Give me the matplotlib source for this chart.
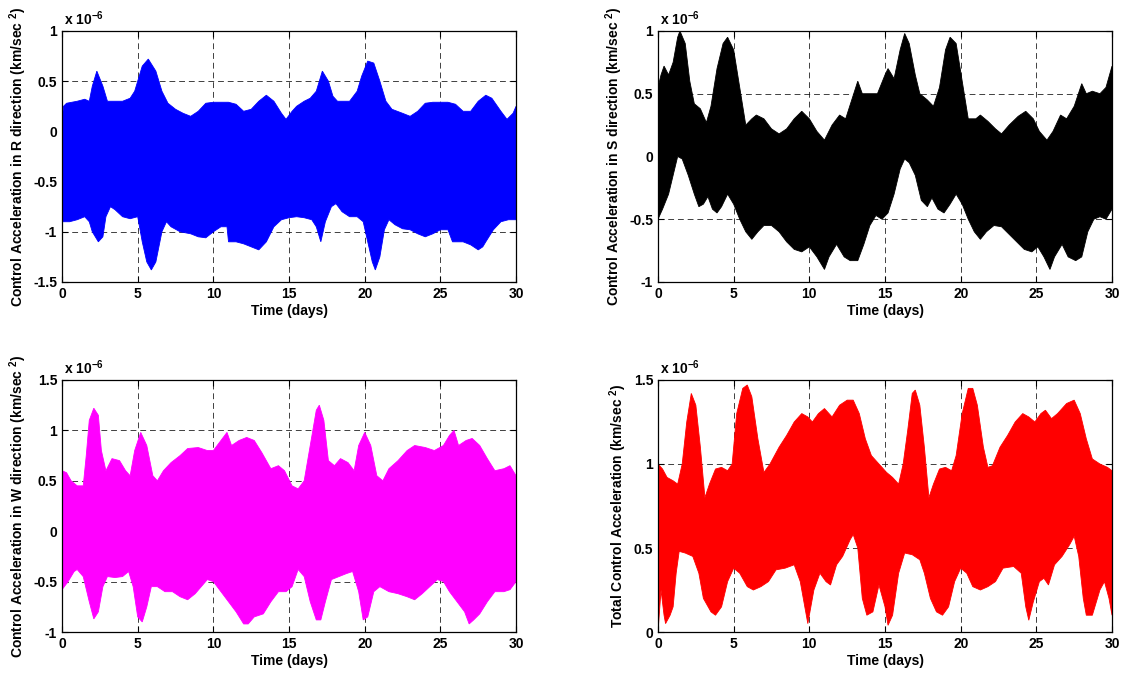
import numpy as np
import matplotlib
matplotlib.use('Agg')
import matplotlib.pyplot as plt

# Envelope of the control acceleration signals (units of 1e-6 km/sec^2)
# R direction
r_up_t = [0, 0.1, 0.3, 1.0, 1.5, 1.8, 2.0, 2.3, 2.7, 3.0, 3.5, 4.0, 4.5, 4.8, 5.0, 5.3, 5.7, 6.2, 6.6, 7.0, 7.5, 8.0,
          8.5, 9.0, 9.5, 10.0, 11.0, 11.5, 12.0, 12.5, 13.0, 13.5, 14.0, 14.5, 14.8, 15.2, 15.5, 16.0, 16.4, 16.8,
          17.2, 17.6, 17.9, 18.2, 19.0, 19.5, 19.8, 20.2, 20.6, 21.0, 21.4, 21.8, 22.5, 23.0, 23.5, 24.0, 24.5,
          25.0, 25.5, 26.0, 26.5, 27.0, 27.5, 28.0, 28.4, 29.0, 29.4, 29.8, 30.0]
r_up = [0.1, 0.25, 0.28, 0.3, 0.32, 0.3, 0.45, 0.6, 0.45, 0.3, 0.3, 0.3, 0.33, 0.4, 0.5, 0.65, 0.72, 0.6, 0.4, 0.28,
        0.22, 0.18, 0.15, 0.2, 0.28, 0.29, 0.29, 0.27, 0.2, 0.22, 0.3, 0.36, 0.3, 0.18, 0.12, 0.2, 0.25, 0.3, 0.33,
        0.4, 0.6, 0.5, 0.35, 0.3, 0.3, 0.4, 0.55, 0.7, 0.68, 0.5, 0.3, 0.22, 0.18, 0.15, 0.2, 0.28, 0.29, 0.29,
        0.29, 0.27, 0.2, 0.2, 0.3, 0.36, 0.33, 0.2, 0.12, 0.18, 0.25]
r_lo_t = [0, 0.5, 1.0, 1.5, 1.8, 2.0, 2.4, 2.7, 2.9, 3.2, 3.5, 4.0, 4.5, 5.0, 5.3, 5.6, 5.9, 6.2, 6.6, 6.9, 7.2, 7.8,
          8.5, 9.0, 9.5, 10.0, 10.5, 10.9, 11.0, 11.5, 12.0, 12.5, 13.0, 13.5, 14.0, 14.5, 15.0, 15.5, 16.0, 16.5,
          16.8, 17.1, 17.4, 17.8, 18.1, 18.5, 19.0, 19.5, 19.9, 20.2, 20.5, 20.7, 21.0, 21.3, 21.6, 22.0, 22.5,
          23.0, 23.5, 24.0, 24.5, 25.0, 25.5, 25.8, 26.5, 27.0, 27.5, 27.8, 28.0, 28.5, 29.0, 29.5, 30.0]
r_lo = [-0.9, -0.9, -0.88, -0.85, -0.9, -1.0, -1.1, -1.05, -0.85, -0.75, -0.78, -0.85, -0.87, -0.85, -1.1, -1.3,
        -1.38, -1.3, -1.0, -0.9, -0.95, -1.0, -1.02, -1.05, -1.06, -1.0, -0.95, -0.95, -1.1, -1.1, -1.12, -1.15,
        -1.18, -1.1, -0.95, -0.88, -0.86, -0.85, -0.86, -0.88, -0.95, -1.1, -0.9, -0.75, -0.72, -0.8, -0.85, -0.85,
        -0.9, -1.1, -1.3, -1.38, -1.25, -0.98, -0.88, -0.93, -0.97, -0.98, -1.02, -1.05, -1.02, -0.98, -0.98, -1.1,
        -1.1, -1.13, -1.18, -1.15, -1.1, -0.98, -0.9, -0.88, -0.88]

# S direction
s_up_t = [0, 0.2, 0.4, 0.7, 1.0, 1.3, 1.45, 1.8, 2.1, 2.4, 2.8, 3.2, 3.5, 3.9, 4.3, 4.6, 5.0, 5.4, 5.8, 6.2, 6.5,
          7.0, 7.5, 8.0, 8.5, 9.0, 9.5, 10.0, 10.5, 11.0, 11.5, 12.0, 12.4, 12.8, 13.2, 13.5, 14.0, 14.5, 15.0,
          15.2, 15.6, 16.0, 16.3, 16.6, 17.0, 17.3, 17.8, 18.2, 18.6, 19.0, 19.3, 19.7, 20.1, 20.5, 21.0, 21.3,
          21.8, 22.3, 22.7, 23.2, 23.8, 24.3, 24.8, 25.2, 25.7, 26.1, 26.6, 27.0, 27.5, 28.0, 28.3, 28.7, 29.2,
          29.6, 30.0]
s_up = [0.55, 0.65, 0.72, 0.65, 0.75, 0.95, 1.0, 0.9, 0.6, 0.42, 0.38, 0.27, 0.4, 0.7, 0.9, 0.95, 0.85, 0.55, 0.25,
        0.3, 0.33, 0.3, 0.22, 0.18, 0.22, 0.3, 0.36, 0.3, 0.2, 0.13, 0.25, 0.33, 0.3, 0.45, 0.6, 0.5, 0.5, 0.5,
        0.65, 0.7, 0.62, 0.85, 0.98, 0.9, 0.65, 0.5, 0.45, 0.4, 0.55, 0.85, 0.95, 0.9, 0.6, 0.3, 0.3, 0.33, 0.28,
        0.22, 0.18, 0.25, 0.32, 0.36, 0.3, 0.2, 0.13, 0.2, 0.33, 0.3, 0.4, 0.58, 0.5, 0.52, 0.5, 0.55, 0.72]
s_lo_t = [0, 0.3, 0.7, 1.0, 1.3, 1.6, 2.0, 2.4, 2.7, 3.0, 3.3, 3.6, 3.9, 4.2, 4.6, 5.0, 5.4, 5.8, 6.2, 6.6, 7.0,
          7.5, 8.0, 8.5, 9.0, 9.5, 10.0, 10.5, 11.0, 11.3, 11.8, 12.3, 12.7, 13.2, 13.6, 14.0, 14.4, 14.8, 15.2,
          15.6, 16.0, 16.3, 16.6, 17.0, 17.4, 17.8, 18.1, 18.5, 18.9, 19.3, 19.7, 20.1, 20.5, 20.9, 21.3, 21.7,
          22.2, 22.7, 23.2, 23.7, 24.2, 24.7, 25.1, 25.5, 25.9, 26.2, 26.7, 27.1, 27.6, 28.0, 28.4, 28.8, 29.2,
          29.6, 30.0]
s_lo = [-0.5, -0.42, -0.3, -0.15, 0.0, -0.02, -0.15, -0.3, -0.4, -0.38, -0.32, -0.42, -0.45, -0.4, -0.3, -0.38,
        -0.5, -0.6, -0.66, -0.6, -0.55, -0.55, -0.6, -0.68, -0.74, -0.76, -0.72, -0.8, -0.9, -0.8, -0.7, -0.8,
        -0.83, -0.83, -0.7, -0.55, -0.47, -0.5, -0.45, -0.3, -0.1, -0.02, -0.05, -0.15, -0.35, -0.4, -0.33, -0.42,
        -0.45, -0.38, -0.3, -0.38, -0.5, -0.6, -0.66, -0.6, -0.55, -0.56, -0.62, -0.68, -0.74, -0.76, -0.72, -0.8,
        -0.9, -0.8, -0.7, -0.8, -0.83, -0.8, -0.6, -0.5, -0.48, -0.5, -0.42]

# W direction
w_up_t = [0, 0.3, 0.6, 1.0, 1.4, 1.6, 1.8, 2.1, 2.4, 2.6, 2.9, 3.3, 3.8, 4.2, 4.5, 4.8, 5.2, 5.6, 6.0, 6.3, 6.7,
          7.2, 7.8, 8.3, 9.0, 9.6, 10.0, 10.5, 10.9, 11.2, 11.7, 12.2, 12.7, 13.2, 13.8, 14.3, 14.7, 15.2, 15.6,
          16.0, 16.4, 16.8, 17.0, 17.3, 17.6, 18.0, 18.4, 18.9, 19.3, 19.6, 20.0, 20.4, 20.8, 21.2, 21.6, 22.2,
          22.8, 23.3, 24.0, 24.6, 25.2, 25.6, 25.9, 26.2, 26.7, 27.1, 27.6, 28.1, 28.6, 29.2, 29.6, 30.0]
w_up = [0.6, 0.58, 0.5, 0.45, 0.45, 0.75, 1.1, 1.22, 1.15, 0.8, 0.6, 0.72, 0.7, 0.6, 0.55, 0.8, 0.98, 0.85, 0.55,
        0.5, 0.6, 0.68, 0.75, 0.82, 0.83, 0.8, 0.8, 0.9, 0.98, 0.85, 0.9, 0.93, 0.9, 0.78, 0.62, 0.65, 0.6, 0.45,
        0.42, 0.5, 0.85, 1.2, 1.25, 1.1, 0.7, 0.65, 0.72, 0.68, 0.6, 0.85, 0.98, 0.85, 0.55, 0.5, 0.62, 0.7, 0.8,
        0.85, 0.83, 0.8, 0.85, 0.95, 1.0, 0.85, 0.9, 0.92, 0.85, 0.72, 0.6, 0.62, 0.65, 0.55]
w_lo_t = [0, 0.4, 0.8, 1.0, 1.4, 1.8, 2.1, 2.4, 2.7, 3.0, 3.5, 4.0, 4.4, 4.7, 5.0, 5.3, 5.6, 5.9, 6.3, 6.8, 7.3,
          7.8, 8.3, 8.8, 9.2, 9.6, 10.0, 10.5, 11.0, 11.5, 12.0, 12.3, 12.7, 13.3, 13.8, 14.3, 14.8, 15.2, 15.6,
          16.0, 16.4, 16.8, 17.1, 17.4, 17.8, 18.3, 18.8, 19.2, 19.6, 19.9, 20.2, 20.6, 21.0, 21.6, 22.2, 22.8,
          23.3, 23.8, 24.3, 24.8, 25.2, 25.6, 26.1, 26.6, 26.9, 27.2, 27.6, 28.1, 28.6, 29.2, 29.6, 30.0]
w_lo = [-0.58, -0.5, -0.4, -0.38, -0.45, -0.7, -0.87, -0.8, -0.55, -0.45, -0.46, -0.45, -0.4, -0.55, -0.85, -0.9,
        -0.75, -0.55, -0.55, -0.6, -0.6, -0.65, -0.68, -0.62, -0.55, -0.48, -0.5, -0.6, -0.7, -0.8, -0.92, -0.92,
        -0.85, -0.82, -0.7, -0.6, -0.6, -0.55, -0.38, -0.45, -0.7, -0.88, -0.88, -0.7, -0.48, -0.45, -0.42, -0.4,
        -0.6, -0.88, -0.85, -0.6, -0.55, -0.6, -0.62, -0.65, -0.68, -0.62, -0.55, -0.48, -0.5, -0.6, -0.7, -0.8,
        -0.92, -0.88, -0.82, -0.7, -0.6, -0.6, -0.58, -0.5]

# Total
t_up_t = [0, 0.3, 0.6, 1.0, 1.3, 1.6, 1.9, 2.2, 2.5, 2.8, 3.1, 3.4, 3.8, 4.2, 4.6, 4.9, 5.2, 5.6, 5.9, 6.2, 6.6,
          7.0, 7.4, 8.0, 8.5, 9.0, 9.5, 9.9, 10.2, 10.6, 11.0, 11.5, 12.0, 12.5, 12.9, 13.3, 13.7, 14.1, 14.6,
          15.1, 15.5, 15.9, 16.2, 16.5, 16.8, 17.0, 17.3, 17.6, 17.9, 18.2, 18.6, 19.0, 19.4, 19.7, 20.1, 20.5,
          20.8, 21.1, 21.5, 21.8, 22.1, 22.6, 23.1, 23.6, 24.1, 24.5, 24.9, 25.3, 25.6, 26.0, 26.4, 27.0, 27.5,
          27.9, 28.3, 28.7, 29.2, 29.7, 30.0]
t_up = [1.0, 0.97, 0.92, 0.9, 0.88, 1.0, 1.25, 1.42, 1.35, 1.1, 0.8, 0.88, 0.97, 0.98, 0.96, 1.0, 1.3, 1.45, 1.47,
        1.4, 1.15, 0.95, 1.0, 1.1, 1.17, 1.25, 1.3, 1.28, 1.25, 1.3, 1.33, 1.28, 1.35, 1.38, 1.38, 1.3, 1.15, 1.05,
        1.0, 0.95, 0.92, 0.88, 1.0, 1.2, 1.42, 1.44, 1.35, 1.1, 0.8, 0.88, 0.97, 0.98, 0.96, 1.05, 1.3, 1.45, 1.45,
        1.35, 1.1, 0.98, 0.99, 1.1, 1.17, 1.25, 1.3, 1.28, 1.25, 1.3, 1.32, 1.27, 1.3, 1.36, 1.38, 1.3, 1.15, 1.03,
        1.0, 0.98, 0.96]
t_lo_t = [0, 0.2, 0.4, 0.5, 0.8, 1.0, 1.2, 1.4, 1.8, 2.3, 2.7, 3.0, 3.5, 3.8, 4.2, 4.6, 5.0, 5.4, 5.9, 6.3, 6.8,
          7.3, 7.8, 8.4, 9.0, 9.4, 9.8, 9.9, 10.3, 10.7, 11.1, 11.4, 11.8, 12.2, 12.7, 12.9, 13.2, 13.5, 13.8,
          14.2, 14.6, 15.0, 15.2, 15.5, 15.9, 16.3, 16.8, 17.3, 17.6, 18.0, 18.4, 18.8, 19.2, 19.6, 20.0, 20.4,
          20.8, 21.3, 21.8, 22.3, 22.8, 23.5, 24.0, 24.3, 24.5, 24.8, 25.2, 25.5, 25.8, 26.2, 26.7, 27.2, 27.5,
          27.8, 28.1, 28.3, 28.7, 29.2, 29.5, 29.8, 30.0]
t_lo = [0.0, 0.25, 0.1, 0.05, 0.1, 0.15, 0.35, 0.48, 0.47, 0.45, 0.35, 0.2, 0.12, 0.1, 0.15, 0.3, 0.38, 0.35, 0.27,
        0.25, 0.27, 0.3, 0.37, 0.38, 0.4, 0.3, 0.1, 0.05, 0.25, 0.35, 0.3, 0.28, 0.4, 0.45, 0.55, 0.58, 0.5, 0.2,
        0.1, 0.12, 0.28, 0.15, 0.04, 0.1, 0.35, 0.47, 0.46, 0.43, 0.35, 0.2, 0.12, 0.1, 0.15, 0.3, 0.38, 0.35,
        0.27, 0.25, 0.27, 0.3, 0.38, 0.39, 0.35, 0.15, 0.07, 0.18, 0.3, 0.32, 0.28, 0.4, 0.45, 0.52, 0.57, 0.45,
        0.2, 0.1, 0.1, 0.25, 0.3, 0.2, 0.1]

ylabels = ['Control Acceleration in R direction (km/sec $^{2}$)',
           'Control Acceleration in S direction (km/sec $^{2}$)',
           'Control Acceleration in W direction (km/sec $^{2}$)',
           'Total Control Acceleration (km/sec $^{2}$)']
colors = ['#0000ff', '#000000', '#ff00ff', '#ff0000']
yticks = [[-1.5, -1, -0.5, 0, 0.5, 1],
          [-1, -0.5, 0, 0.5, 1],
          [-1, -0.5, 0, 0.5, 1, 1.5],
          [0, 0.5, 1, 1.5]]
xticks = [0, 5, 10, 15, 20, 25, 30]

plt.rcParams['font.family'] = 'Liberation Sans'
plt.rcParams['font.weight'] = 'bold'
plt.rcParams['font.size'] = 10
plt.rcParams['axes.unicode_minus'] = False
plt.rcParams['mathtext.fontset'] = 'custom'
plt.rcParams['mathtext.rm'] = 'Liberation Sans:bold'
plt.rcParams['mathtext.it'] = 'Liberation Sans:bold'
plt.rcParams['mathtext.bf'] = 'Liberation Sans:bold'

fig = plt.figure(figsize=(11.3, 6.73), dpi=100)
# axes boxes in figure fractions
boxes = [[0.0549, 0.581, 0.4018, 0.373],
         [0.5823, 0.581, 0.4018, 0.373],
         [0.0549, 0.0609, 0.4018, 0.3745],
         [0.5823, 0.0609, 0.4018, 0.3745]]
envelopes = [(r_up_t, r_up, r_lo_t, r_lo),
             (s_up_t, s_up, s_lo_t, s_lo),
             (w_up_t, w_up, w_lo_t, w_lo),
             (t_up_t, t_up, t_lo_t, t_lo)]

for i in range(4):
    ax = fig.add_axes(boxes[i])
    ut, u, lt, lo = envelopes[i]
    xs = np.concatenate([ut, lt[::-1]])
    ys = np.concatenate([u, lo[::-1]])
    ax.fill(xs, ys, color=colors[i], lw=0.6)
    ax.set_xlim(0, 30)
    ax.set_ylim(yticks[i][0], yticks[i][-1])
    ax.set_xticks(xticks)
    ax.set_yticks(yticks[i])
    ax.set_yticklabels([('%g' % v) for v in yticks[i]])
    ax.set_axisbelow(True)
    ax.grid(True, color='black', linestyle=(0, (6, 4)), linewidth=0.7, alpha=0.75)
    ax.tick_params(direction='in', top=True, right=True, length=4, width=0.8, labelsize=10)
    for sp in ax.spines.values():
        sp.set_linewidth(0.9)
    ax.set_xlabel('Time (days)', fontsize=10, fontweight='bold', labelpad=2)
    ax.set_ylabel(ylabels[i], fontsize=10, fontweight='bold', labelpad=3)
    ax.text(0.005, 1.01, r'x 10$^{-6}$', transform=ax.transAxes, ha='left', va='bottom',
            fontsize=10, fontweight='bold')

fig.savefig('out.png', dpi=100)
